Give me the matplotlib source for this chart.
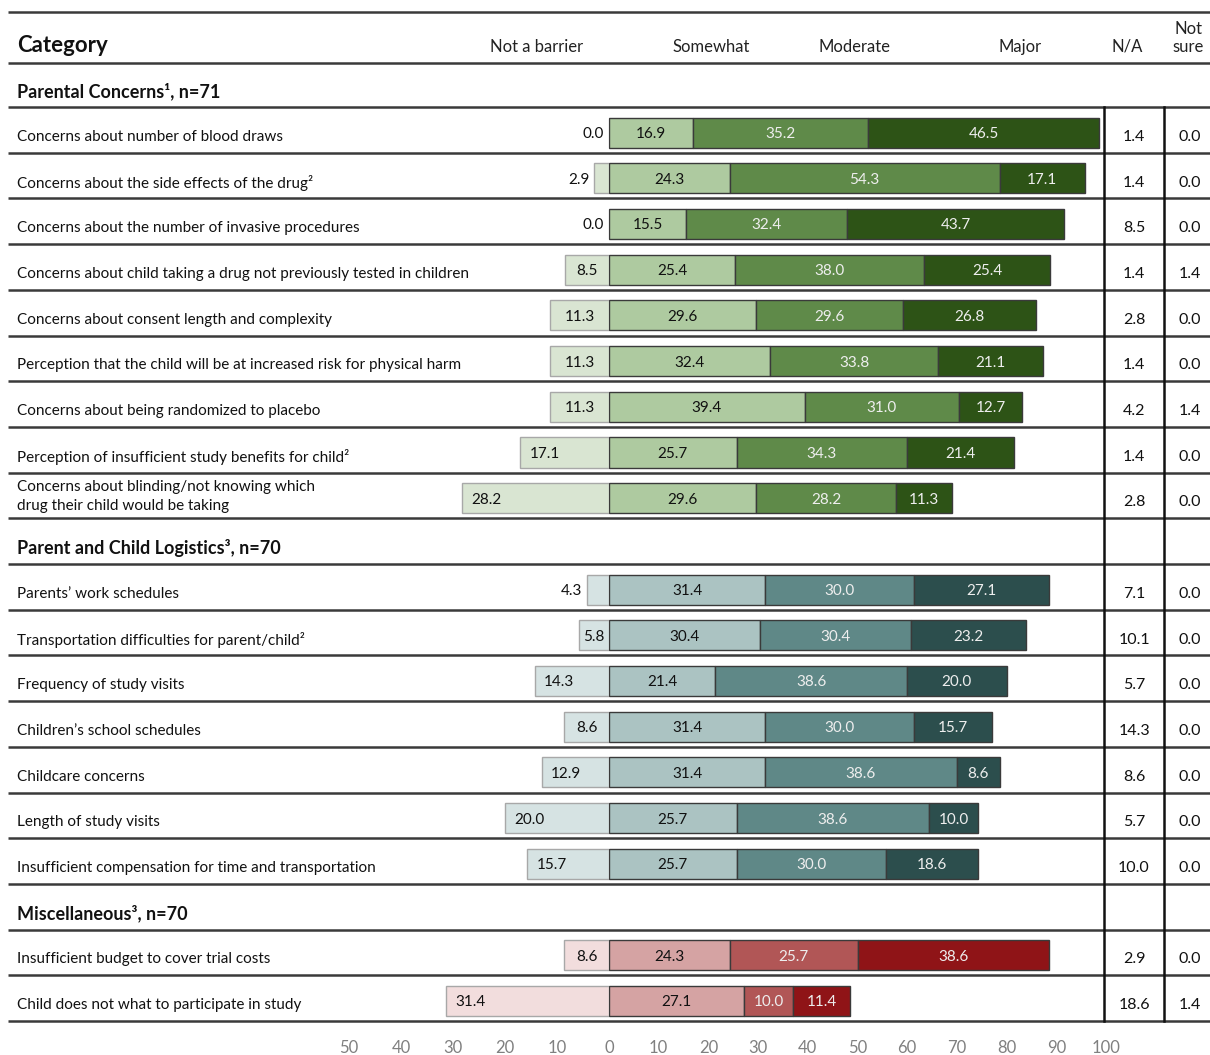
import matplotlib.pyplot as plt

plt.rcParams['font.family'] = ['Lato', 'DejaVu Sans']

# data (percent)
sections = ["Parental Concerns\u00b9, n=71",
            "Parent and Child Logistics\u00b3, n=70",
            "Miscellaneous\u00b3, n=70"]

labels_1 = ["Concerns about number of blood draws",
            "Concerns about the side effects of the drug\u00b2",
            "Concerns about the number of invasive procedures",
            "Concerns about child taking a drug not previously tested in children",
            "Concerns about consent length and complexity",
            "Perception that the child will be at increased risk for physical harm",
            "Concerns about being randomized to placebo",
            "Perception of insufficient study benefits for child\u00b2",
            "Concerns about blinding/not knowing which\ndrug their child would be taking"]
not_barrier_1 = [0.0, 2.9, 0.0, 8.5, 11.3, 11.3, 11.3, 17.1, 28.2]
somewhat_1 = [16.9, 24.3, 15.5, 25.4, 29.6, 32.4, 39.4, 25.7, 29.6]
moderate_1 = [35.2, 54.3, 32.4, 38.0, 29.6, 33.8, 31.0, 34.3, 28.2]
major_1 = [46.5, 17.1, 43.7, 25.4, 26.8, 21.1, 12.7, 21.4, 11.3]
na_1 = [1.4, 1.4, 8.5, 1.4, 2.8, 1.4, 4.2, 1.4, 2.8]
notsure_1 = [0.0, 0.0, 0.0, 1.4, 0.0, 0.0, 1.4, 0.0, 0.0]

labels_2 = ["Parents\u2019 work schedules",
            "Transportation difficulties for parent/child\u00b2",
            "Frequency of study visits",
            "Children\u2019s school schedules",
            "Childcare concerns",
            "Length of study visits",
            "Insufficient compensation for time and transportation"]
not_barrier_2 = [4.3, 5.8, 14.3, 8.6, 12.9, 20.0, 15.7]
somewhat_2 = [31.4, 30.4, 21.4, 31.4, 31.4, 25.7, 25.7]
moderate_2 = [30.0, 30.4, 38.6, 30.0, 38.6, 38.6, 30.0]
major_2 = [27.1, 23.2, 20.0, 15.7, 8.6, 10.0, 18.6]
na_2 = [7.1, 10.1, 5.7, 14.3, 8.6, 5.7, 10.0]
notsure_2 = [0.0, 0.0, 0.0, 0.0, 0.0, 0.0, 0.0]

labels_3 = ["Insufficient budget to cover trial costs",
            "Child does not what to participate in study"]
not_barrier_3 = [8.6, 31.4]
somewhat_3 = [24.3, 27.1]
moderate_3 = [25.7, 10.0]
major_3 = [38.6, 11.4]
na_3 = [2.9, 18.6]
notsure_3 = [0.0, 1.4]

left_ticks = [-50, -40, -30, -20, -10]
right_ticks = [0, 10, 20, 30, 40, 50, 60, 70, 80, 90, 100]

palettes = [["#d9e5d2", "#aecaa0", "#5f8a49", "#2d5316"],
            ["#d6e3e3", "#abc3c2", "#5f8887", "#2c4e4d"],
            ["#f2dddd", "#d5a3a3", "#b15656", "#8f1417"]]

groups = [(labels_1, not_barrier_1, somewhat_1, moderate_1, major_1, na_1, notsure_1),
          (labels_2, not_barrier_2, somewhat_2, moderate_2, major_2, na_2, notsure_2),
          (labels_3, not_barrier_3, somewhat_3, moderate_3, major_3, na_3, notsure_3)]

W, H = 1210, 1055
TOP, BOT = 107, 1021
NSLOT = 20
SLOT = (BOT - TOP) / NSLOT

fig = plt.figure(figsize=(W / 100, H / 100), dpi=100)

tab = fig.add_axes([0, 0, 1, 1])
tab.set_xlim(0, W)
tab.set_ylim(H, 0)
tab.axis('off')

axl = fig.add_axes([349 / W, 1 - BOT / H, (609 - 349) / W, (BOT - TOP) / H])
axr = fig.add_axes([609 / W, 1 - BOT / H, (1106 - 609) / W, (BOT - TOP) / H])
for ax in (axl, axr):
    ax.set_ylim(NSLOT, 0)
    ax.patch.set_visible(False)
    for s in ax.spines.values():
        s.set_visible(False)
    ax.set_yticks([])
    ax.tick_params(axis='x', length=0, pad=14, labelsize=12, labelcolor='#808080')
axl.set_xlim(-50, 0)
axr.set_xlim(0, 100)
axl.set_xticks(left_ticks)
axl.set_xticklabels([str(abs(t)) for t in left_ticks])
axr.set_xticks(right_ticks)
axr.set_xticklabels([str(t) for t in right_ticks])

# header
tab.text(17, 45, "Category", fontsize=16, fontweight='bold', va='center', ha='left', color='#111111')
for txt, x in [("Not a barrier", 537), ("Somewhat", 711), ("Moderate", 855),
               ("Major", 1020), ("N/A", 1127)]:
    tab.text(x, 47, txt, fontsize=12, ha='center', va='center', color='#222222')
tab.text(1188, 38, "Not\nsure", fontsize=12, ha='center', va='center', color='#222222',
         linespacing=1.1)

def hline(y, lw=1.8, color='#3a3a3a'):
    tab.plot([8, W], [y, y], color=color, lw=lw, solid_capstyle='butt')

hline(12)
hline(63)
hline(TOP)

slot = 0
for gi, (labs, nb, sw, mo, mj, na, ns) in enumerate(groups):
    cols = palettes[gi]
    # section header
    if gi == 0:
        hy = 91
    else:
        hy = TOP + SLOT * (slot + 0.5) + 7
        slot += 1
        hline(TOP + SLOT * slot)
    tab.text(17, hy, sections[gi], fontsize=13, fontweight='bold', ha='left', va='center',
             color='#111111')
    ys = [slot + i + 0.56 for i in range(len(labs))]
    bh = 0.66
    axl.barh(ys, nb, left=[-v for v in nb], height=bh, color=cols[0], edgecolor='#a8a8a8', lw=1)
    axr.barh(ys, sw, left=0, height=bh, color=cols[1], edgecolor='#3a3a3a', lw=1)
    axr.barh(ys, mo, left=sw, height=bh, color=cols[2], edgecolor='#3a3a3a', lw=1)
    axr.barh(ys, mj, left=[a + b for a, b in zip(sw, mo)], height=bh, color=cols[3],
             edgecolor='#3a3a3a', lw=1)
    kw = dict(fontsize=11, va='center_baseline')
    for i, y in enumerate(ys):
        ty = TOP + SLOT * (slot + i + 0.5) + (7 if "\n" not in labs[i] else 1)
        tab.text(17, ty, labs[i], fontsize=11, ha='left', va='center', color='#111111',
                 linespacing=1.5)
        tab.text(1134, TOP + SLOT * (slot + i + 0.5) + 7, f"{na[i]:.1f}", fontsize=11.5,
                 ha='center', va='center', color='#111111')
        tab.text(1190, TOP + SLOT * (slot + i + 0.5) + 7, f"{ns[i]:.1f}", fontsize=11.5,
                 ha='center', va='center', color='#111111')
        v = nb[i]
        if v < 5:
            axl.text(-v - 0.9, y, f"{v:.1f}", ha='right', color='#111111', **kw)
        elif v < 12:
            axl.text(-v / 2, y, f"{v:.1f}", ha='center', color='#111111', **kw)
        else:
            axl.text(-v + 1.8, y, f"{v:.1f}", ha='left', color='#111111', **kw)
        axr.text(sw[i] / 2, y, f"{sw[i]:.1f}", ha='center', color='#111111', **kw)
        axr.text(sw[i] + mo[i] / 2, y, f"{mo[i]:.1f}", ha='center', color='#eeeeee', **kw)
        axr.text(sw[i] + mo[i] + mj[i] / 2, y, f"{mj[i]:.1f}", ha='center', color='#eeeeee', **kw)
    for i in range(len(labs)):
        hline(TOP + SLOT * (slot + i + 1))
    slot += len(labs)

for x in (1104, 1164):
    tab.plot([x, x], [TOP, BOT], color='#111111', lw=1.8)

fig.savefig("out.png", dpi=100)
